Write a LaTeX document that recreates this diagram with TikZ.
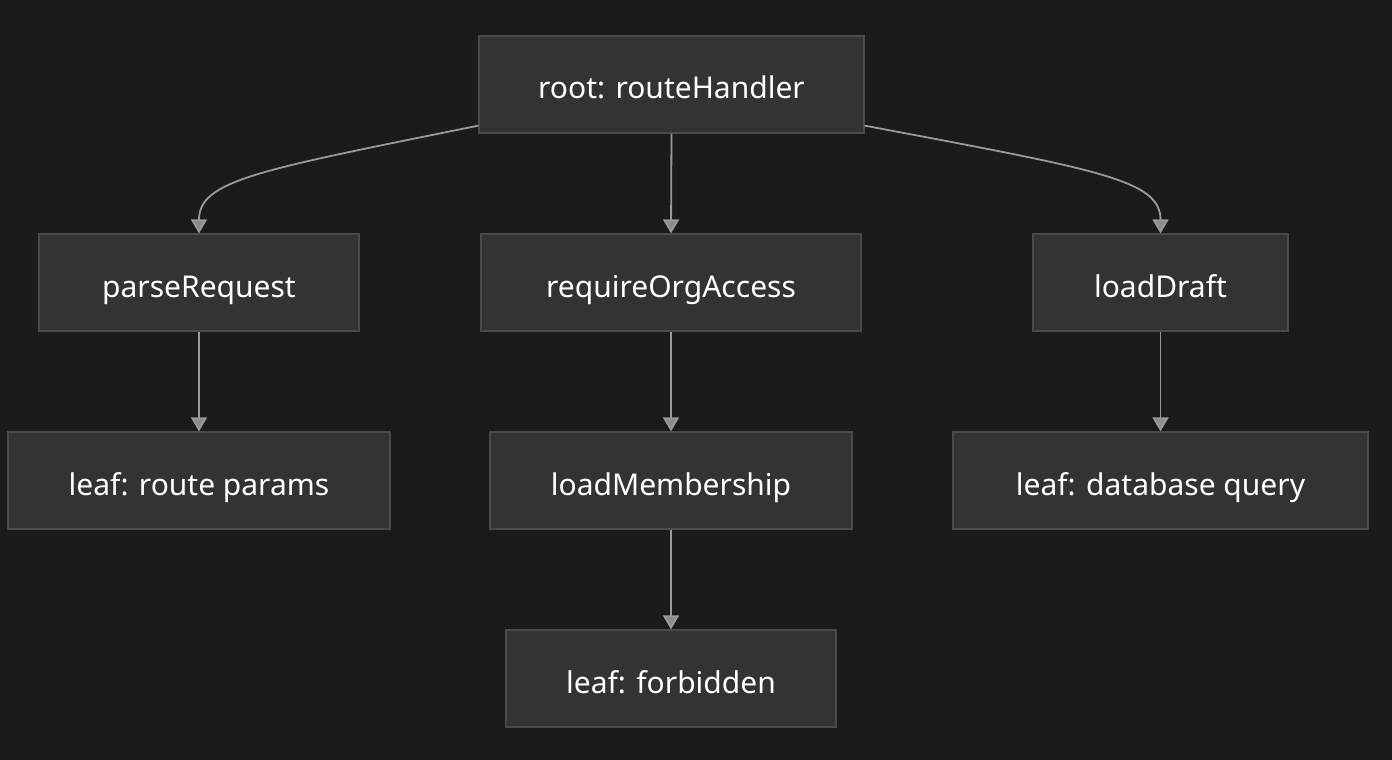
\documentclass[tikz,border=0pt]{standalone}
\usepackage{fontspec}
\setmainfont{Noto Sans}
\usetikzlibrary{arrows.meta}
\definecolor{bg}{HTML}{1B1B1B}
\definecolor{boxfill}{HTML}{333333}
\definecolor{boxline}{HTML}{4A4A4A}
\definecolor{edge}{HTML}{9A9A9A}
\definecolor{arrowfill}{HTML}{8C8C8C}
\begin{document}
\begin{tikzpicture}[x=1pt,y=-1pt,
  box/.style={draw=boxline,fill=boxfill,line width=1.2pt,minimum height=97pt,inner sep=0pt,
    text=white,font=\fontsize{30}{36}\selectfont,text height=29pt,text depth=0pt},
  conn/.style={draw=edge,line width=1.8pt,-{Triangle[width=16pt,length=14pt,fill=arrowfill]}}]
\fill[bg] (0,0) rectangle (1392,760);
\useasboundingbox (0,0) rectangle (1392,760);
\node[box,minimum width=385pt] (root) at (671.5,84.5) {root: routeHandler};
\node[box,minimum width=320pt] (parse) at (199,282.5) {parseRequest};
\node[box,minimum width=380pt] (req) at (671,282.5) {requireOrgAccess};
\node[box,minimum width=255pt] (draft) at (1160.5,282.5) {loadDraft};
\node[box,minimum width=382pt] (params) at (199,480.5) {leaf: route params};
\node[box,minimum width=362pt] (member) at (671,480.5) {loadMembership};
\node[box,minimum width=415pt] (query) at (1160.5,480.5) {leaf: database query};
\node[box,minimum width=330pt] (forb) at (671,678.5) {leaf: forbidden};
\coordinate (rl) at ([yshift=8pt]root.south west);
\coordinate (rr) at ([yshift=8pt]root.south east);
\draw[conn] (rl) .. controls (260,170) and (199,180) .. (parse.north);
\draw[conn] (rr) .. controls (1100,170) and (1160.5,180) .. (draft.north);
\draw[conn] (root.south) -- (req.north);
\draw[conn] (parse.south) -- (params.north);
\draw[conn] (req.south) -- (member.north);
\draw[conn] (draft.south) -- (query.north);
\draw[conn] (member.south) -- (forb.north);
\end{tikzpicture}
\end{document}
